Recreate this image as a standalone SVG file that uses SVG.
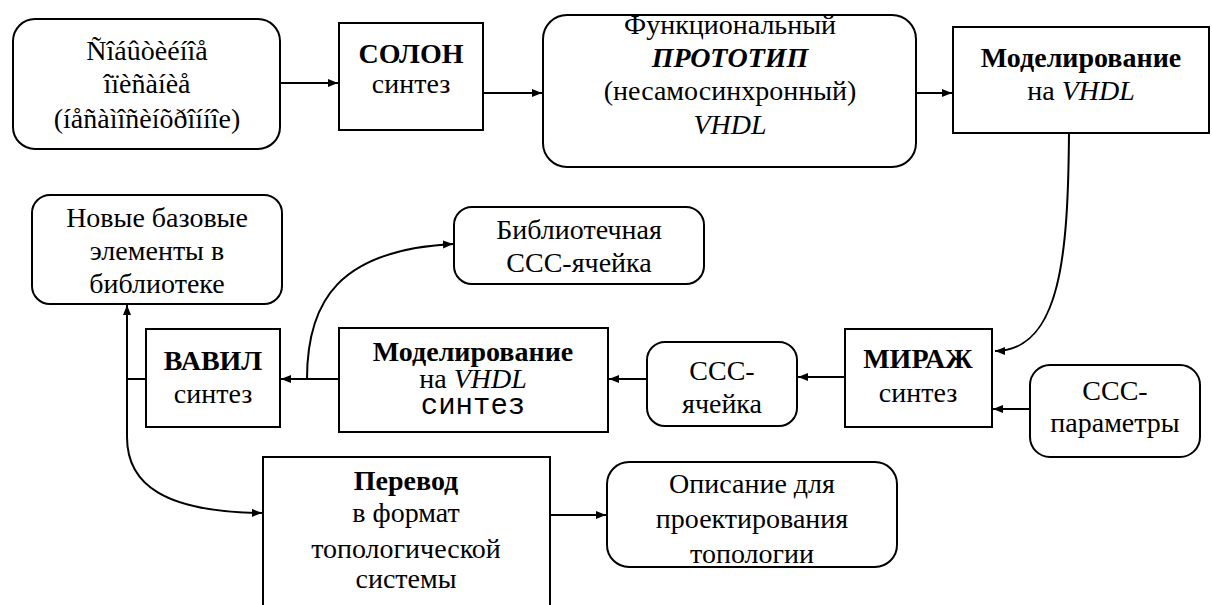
<svg xmlns="http://www.w3.org/2000/svg" width="1212" height="605" viewBox="0 0 1212 605">
<defs>
<marker id="ah" viewBox="0 0 10 8" refX="10" refY="4" markerWidth="10" markerHeight="8" markerUnits="userSpaceOnUse" orient="auto">
<path d="M0,0 L10,4 L0,8 Z" fill="#000"/>
</marker>
</defs>
<rect width="1212" height="605" fill="#fff"/>
<g id="connectors" fill="none" stroke="#000" stroke-width="2">
<path d="M280,83 H338" marker-end="url(#ah)"/>
<path d="M483,93 H542" marker-end="url(#ah)"/>
<path d="M916,93 H952" marker-end="url(#ah)"/>
<path d="M1069,133 C1068,250 1062,351 995,351" marker-end="url(#ah)"/>
<path d="M1030,409 H993" marker-end="url(#ah)"/>
<path d="M845,377 H798" marker-end="url(#ah)"/>
<path d="M647,379 H609" marker-end="url(#ah)"/>
<path d="M339,379 H281" marker-end="url(#ah)"/>
<path d="M307,379 C307,300 340,250 453,244" marker-end="url(#ah)"/>
<path d="M146,379 H127"/>
<path d="M127,437 V305" marker-end="url(#ah)"/>
<path d="M127,437 C127,485 165,512 262,513" marker-end="url(#ah)"/>
<path d="M550,515 H606" marker-end="url(#ah)"/>
</g>
<g id="n1">
<rect fill="#fff" stroke="#000" stroke-width="2" x="13" y="19" width="267" height="130" rx="22"/>
<text font-family="Liberation Serif" font-size="28" text-anchor="middle" x="147" y="60">Ñîáûòèéíîå</text>
<text font-family="Liberation Serif" font-size="28" text-anchor="middle" x="147" y="93">îïèñàíèå</text>
<text font-family="Liberation Serif" font-size="28" text-anchor="middle" x="147" y="128">(íåñàìîñèíõðîííîe)</text>
</g>
<g id="n2">
<rect fill="#fff" stroke="#000" stroke-width="2" x="339" y="23" width="144" height="107"/>
<text font-family="Liberation Serif" font-size="28" text-anchor="middle" font-weight="bold" x="411" y="63">СОЛОН</text>
<text font-family="Liberation Serif" font-size="28" text-anchor="middle" x="411" y="93">синтез</text>
</g>
<g id="n3">
<rect fill="#fff" stroke="#000" stroke-width="2" x="543" y="15" width="373" height="152" rx="24"/>
<text font-family="Liberation Serif" font-size="28" text-anchor="middle" x="730" y="34">Функциональный</text>
<text font-family="Liberation Serif" font-size="28" text-anchor="middle" font-weight="bold" font-style="italic" x="730" y="67">ПРОТОТИП</text>
<text font-family="Liberation Serif" font-size="28" text-anchor="middle" x="730" y="100">(несамосинхронный)</text>
<text font-family="Liberation Serif" font-size="28" text-anchor="middle" font-style="italic" x="730" y="134">VHDL</text>
</g>
<g id="n4">
<rect fill="#fff" stroke="#000" stroke-width="2" x="953" y="27" width="256" height="106"/>
<text font-family="Liberation Serif" font-size="28" text-anchor="middle" font-weight="bold" x="1081" y="67">Моделирование</text>
<text font-family="Liberation Serif" font-size="28" text-anchor="middle" x="1081" y="100">на <tspan font-style="italic">VHDL</tspan></text>
</g>
<g id="n5">
<rect fill="#fff" stroke="#000" stroke-width="2" x="845" y="329" width="147" height="98"/>
<text font-family="Liberation Serif" font-size="28" text-anchor="middle" font-weight="bold" x="918" y="368">МИРАЖ</text>
<text font-family="Liberation Serif" font-size="28" text-anchor="middle" x="918" y="402">синтез</text>
</g>
<g id="n6">
<rect fill="#fff" stroke="#000" stroke-width="2" x="1030" y="365" width="170" height="92" rx="20"/>
<text font-family="Liberation Serif" font-size="28" text-anchor="middle" x="1115" y="400">ССС-</text>
<text font-family="Liberation Serif" font-size="28" text-anchor="middle" x="1115" y="432">параметры</text>
</g>
<g id="n7">
<rect fill="#fff" stroke="#000" stroke-width="2" x="647" y="342" width="150" height="84" rx="18"/>
<text font-family="Liberation Serif" font-size="28" text-anchor="middle" x="722" y="380">ССС-</text>
<text font-family="Liberation Serif" font-size="28" text-anchor="middle" x="722" y="413">ячейка</text>
</g>
<g id="n8">
<rect fill="#fff" stroke="#000" stroke-width="2" x="339" y="328" width="269" height="104"/>
<text font-family="Liberation Serif" font-size="28" text-anchor="middle" font-weight="bold" x="473" y="361">Моделирование</text>
<text font-family="Liberation Serif" font-size="28" text-anchor="middle" x="473" y="388">на <tspan font-style="italic">VHDL</tspan></text>
<text font-family="Liberation Mono" font-size="29" text-anchor="middle" x="473" y="414">синтез</text>
</g>
<g id="n9">
<rect fill="#fff" stroke="#000" stroke-width="2" x="146" y="329" width="134" height="98"/>
<text font-family="Liberation Serif" font-size="28" text-anchor="middle" font-weight="bold" x="213" y="370">ВАВИЛ</text>
<text font-family="Liberation Serif" font-size="28" text-anchor="middle" x="213" y="403">синтез</text>
</g>
<g id="n10">
<rect fill="#fff" stroke="#000" stroke-width="2" x="454" y="207" width="250" height="77" rx="18"/>
<text font-family="Liberation Serif" font-size="28" text-anchor="middle" x="579" y="239">Библиотечная</text>
<text font-family="Liberation Serif" font-size="28" text-anchor="middle" x="579" y="272">ССС-ячейка</text>
</g>
<g id="n11">
<rect fill="#fff" stroke="#000" stroke-width="2" x="32" y="195" width="250" height="109" rx="18"/>
<text font-family="Liberation Serif" font-size="28" text-anchor="middle" x="157" y="227">Новые базовые</text>
<text font-family="Liberation Serif" font-size="28" text-anchor="middle" x="157" y="260">элементы в</text>
<text font-family="Liberation Serif" font-size="28" text-anchor="middle" x="157" y="293">библиотеке</text>
</g>
<g id="n12">
<rect fill="#fff" stroke="#000" stroke-width="2" x="263" y="457" width="287" height="160"/>
<text font-family="Liberation Serif" font-size="28" text-anchor="middle" font-weight="bold" x="406" y="490">Перевод</text>
<text font-family="Liberation Serif" font-size="28" text-anchor="middle" x="406" y="522">в формат</text>
<text font-family="Liberation Serif" font-size="28" text-anchor="middle" x="406" y="558">топологической</text>
<text font-family="Liberation Serif" font-size="28" text-anchor="middle" x="406" y="588">системы</text>
</g>
<g id="n13">
<rect fill="#fff" stroke="#000" stroke-width="2" x="607" y="462" width="290" height="105" rx="22"/>
<text font-family="Liberation Serif" font-size="28" text-anchor="middle" x="752" y="493">Описание для</text>
<text font-family="Liberation Serif" font-size="28" text-anchor="middle" x="752" y="528">проектирования</text>
<text font-family="Liberation Serif" font-size="28" text-anchor="middle" x="752" y="563">топологии</text>
</g>
</svg>
